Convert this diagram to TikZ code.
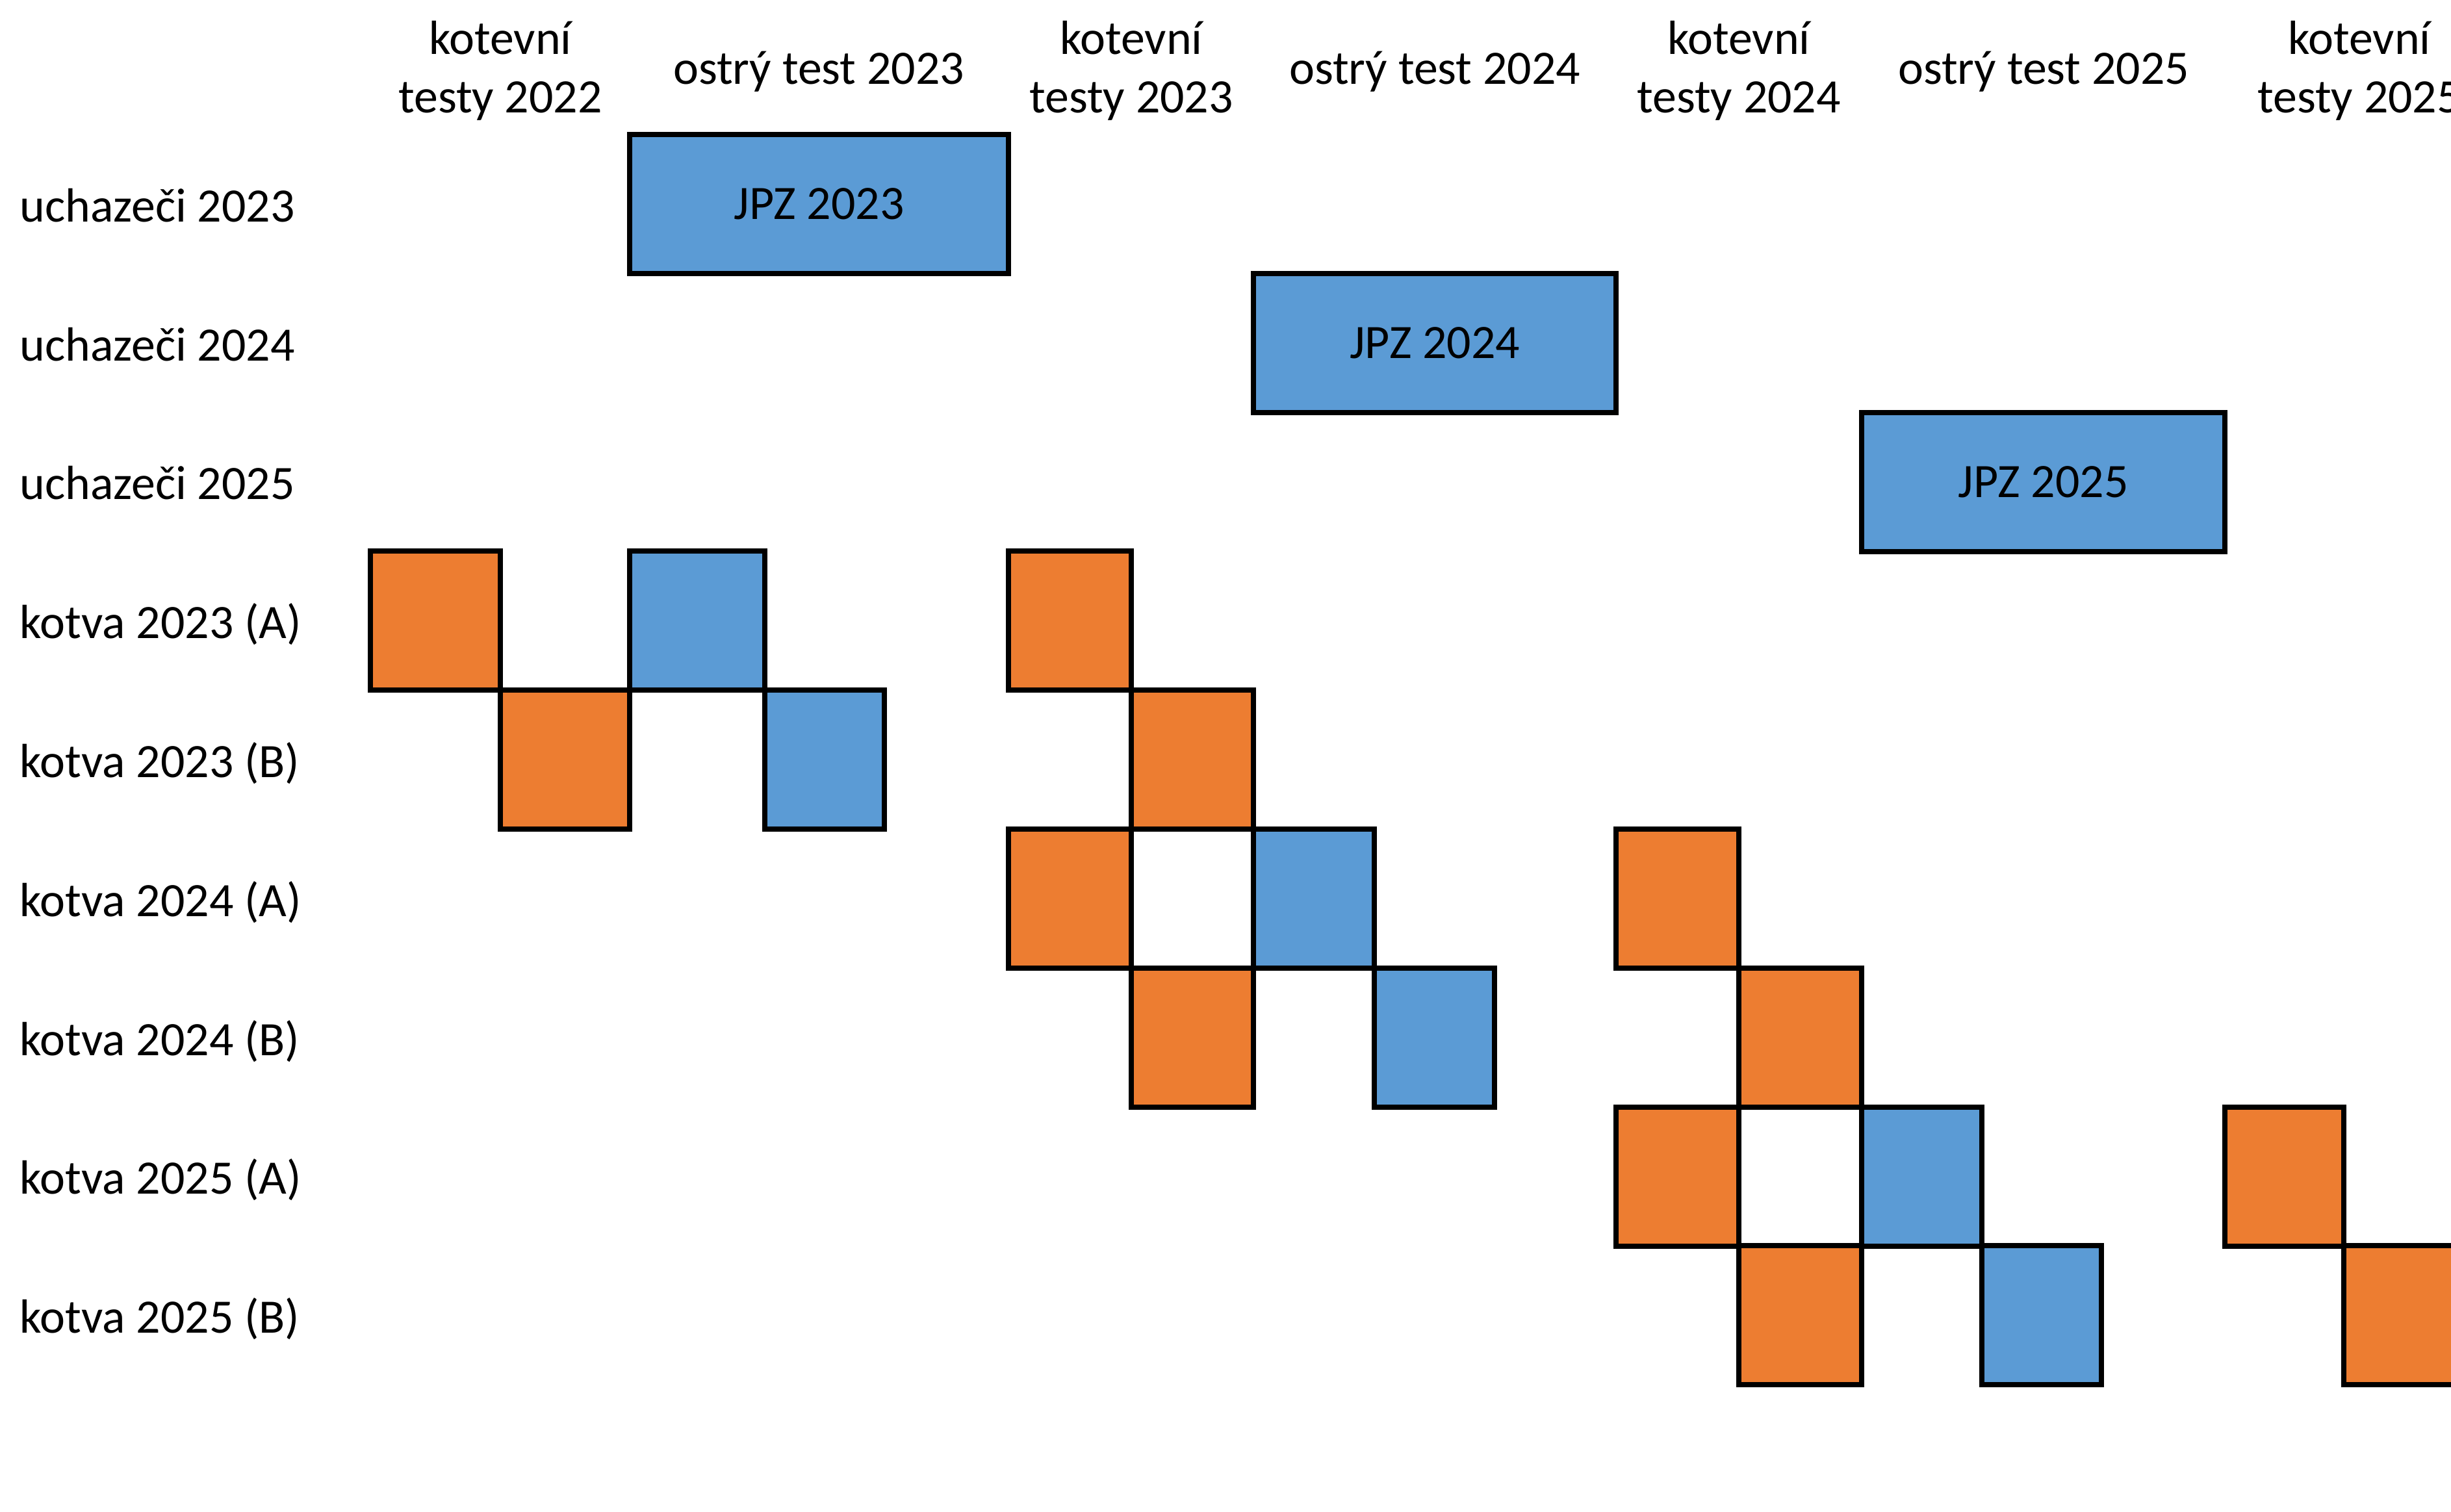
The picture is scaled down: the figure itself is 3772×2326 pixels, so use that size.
\documentclass[tikz,border=0pt]{standalone}
\usepackage{fontspec}
\setmainfont{Carlito}
\definecolor{org}{HTML}{ED7D31}
\definecolor{blu}{HTML}{5B9BD5}
\begin{document}
\begin{tikzpicture}[x=0.01cm,y=-0.01cm,
  txt/.style={font=\fontsize{21}{25.6}\selectfont, inner sep=0pt},
  rowlbl/.style={txt, anchor=base west},
  hdr/.style={txt, align=center},
  cell/.style={draw=black, line width=0.08cm, rectangle, inner sep=0pt, outer sep=0pt,
    anchor=north west, minimum height=2.138cm, font=\fontsize{21}{25.6}\selectfont},
  ocell/.style={cell, fill=org},
  bcell/.style={cell, fill=blu}]
\useasboundingbox (0,0) rectangle (3772,2326);
\clip (0,0) rectangle (3772,2326);
\fill[white] (0,0) rectangle (3772,2326);

% column headers
\node[hdr] (k22) at (770,109) {kotevní\\testy 2022};
\node[txt, anchor=base] (o23) at (1260,129) {ostrý test 2023};
\node[hdr] (k23) at (1741,109) {kotevní\\testy 2023};
\node[txt, anchor=base] (o24) at (2208,129) {ostrý test 2024};
\node[hdr] (k24) at (2676,109) {kotevní\\testy 2024};
\node[txt, anchor=base] (o25) at (3145,129) {ostrý test 2025};
\node[hdr] (k25) at (3631,109) {kotevní\\testy 2025};

% row labels
\node[rowlbl] (u23) at (30,341) {uchazeči 2023};
\node[rowlbl] (u24) at (30,555) {uchazeči 2024};
\node[rowlbl] (u25) at (30,768) {uchazeči 2025};
\node[rowlbl] (k23a) at (30,982) {kotva 2023 (A)};
\node[rowlbl] (k23b) at (30,1196) {kotva 2023 (B)};
\node[rowlbl] (k24a) at (30,1410) {kotva 2024 (A)};
\node[rowlbl] (k24b) at (30,1624) {kotva 2024 (B)};
\node[rowlbl] (k25a) at (30,1837) {kotva 2025 (A)};
\node[rowlbl] (k25b) at (30,2051) {kotva 2025 (B)};

% JPZ boxes
\node[bcell, minimum width=5.83cm] (jpz23) at (969,207) {JPZ 2023};
\node[bcell, minimum width=5.58cm] (jpz24) at (1929,420.8) {JPZ 2024};
\node[bcell, minimum width=5.59cm] (jpz25) at (2865,634.6) {JPZ 2025};

% kotva 2023 (A)
\node[ocell, minimum width=2.00cm] (c3a) at (570,848.4) {};
\node[bcell, minimum width=2.08cm] (c3b) at (969,848.4) {};
\node[ocell, minimum width=1.89cm] (c3c) at (1552,848.4) {};
% kotva 2023 (B)
\node[ocell, minimum width=1.99cm] (c4a) at (770,1062.2) {};
\node[bcell, minimum width=1.84cm] (c4b) at (1177,1062.2) {};
\node[ocell, minimum width=1.88cm] (c4c) at (1741,1062.2) {};
% kotva 2024 (A)
\node[ocell, minimum width=1.89cm] (c5a) at (1552,1276) {};
\node[bcell, minimum width=1.86cm] (c5b) at (1929,1276) {};
\node[ocell, minimum width=1.89cm] (c5c) at (2487,1276) {};
% kotva 2024 (B)
\node[ocell, minimum width=1.88cm] (c6a) at (1741,1489.8) {};
\node[bcell, minimum width=1.85cm] (c6b) at (2115,1489.8) {};
\node[ocell, minimum width=1.89cm] (c6c) at (2676,1489.8) {};
% kotva 2025 (A)
\node[ocell, minimum width=1.89cm] (c7a) at (2487,1703.6) {};
\node[bcell, minimum width=1.85cm] (c7b) at (2865,1703.6) {};
\node[ocell, minimum width=1.83cm] (c7c) at (3424,1703.6) {};
% kotva 2025 (B)
\node[ocell, minimum width=1.89cm] (c8a) at (2676,1917.4) {};
\node[bcell, minimum width=1.84cm] (c8b) at (3050,1917.4) {};
\node[ocell, minimum width=1.87cm] (c8c) at (3607,1917.4) {};
\end{tikzpicture}
\end{document}
